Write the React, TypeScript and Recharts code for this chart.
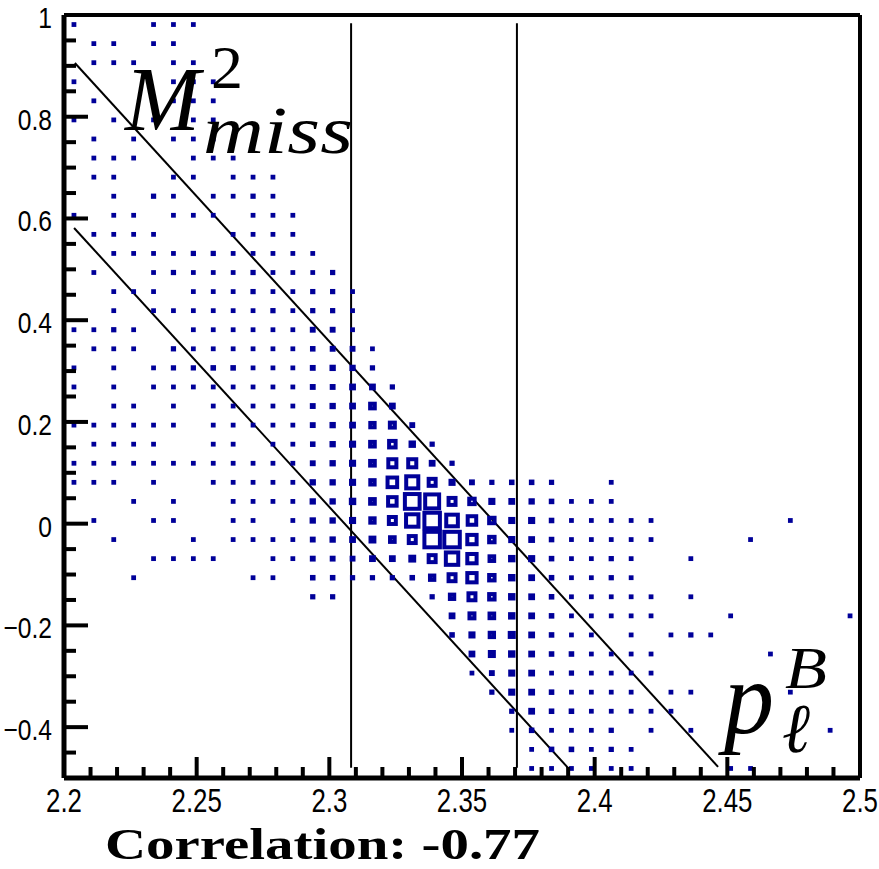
import React from 'react';
import { ScatterChart, Scatter, XAxis, YAxis, ReferenceLine } from 'recharts';

// Histogram geometry (40 x 40 bins)
const xMin = 2.2;
const xMax = 2.5;
const yMin = -0.5;
const yMax = 1.0;
const nBinsX = 40;
const nBinsY = 40;

// Axis ticks
const xTicks = [
  2.2, 2.21, 2.22, 2.23, 2.24, 2.25, 2.26, 2.27, 2.28, 2.29,
  2.3, 2.31, 2.32, 2.33, 2.34, 2.35, 2.36, 2.37, 2.38, 2.39,
  2.4, 2.41, 2.42, 2.43, 2.44, 2.45, 2.46, 2.47, 2.48, 2.49, 2.5,
];
const xMajorTicks = [2.2, 2.25, 2.3, 2.35, 2.4, 2.45, 2.5];
const xTickLabels = ['2.2', '2.25', '2.3', '2.35', '2.4', '2.45', '2.5'];
const yTicks = [
  -0.5, -0.45, -0.4, -0.35, -0.3, -0.25, -0.2, -0.15, -0.1, -0.05,
  0, 0.05, 0.1, 0.15, 0.2, 0.25, 0.3, 0.35, 0.4, 0.45,
  0.5, 0.55, 0.6, 0.65, 0.7, 0.75, 0.8, 0.85, 0.9, 0.95, 1.0,
];
const yMajorTicks = [-0.4, -0.2, 0, 0.2, 0.4, 0.6, 0.8, 1.0];
const yTickLabels = ['\u22120.4', '\u22120.2', '0', '0.2', '0.4', '0.6', '0.8', '1'];

// Cut lines
const cutLowX = 2.3082;
const cutHighX = 2.3707;
const cutTopY = 0.984;
const cutBottomY = -0.48;
const bandUpper = [{ x: 2.2041, y: 0.9056 }, { x: 2.4465, y: -0.478 }];
const bandLower = [{ x: 2.2038, y: 0.5813 }, { x: 2.3903, y: -0.482 }];

const correlationText = 'Correlation: -0.77';

// Bin contents, rows from top (y = 1) to bottom (y = -0.5), columns from x = 2.2 to 2.5
const binCounts: number[][] = [
  [5,0,0,0,5,5,5,0,0,0, 0,0,0,0,0,0,0,0,0,0, 0,0,0,0,0,0,0,0,0,0, 0,0,0,0,0,0,0,0,0,0],
  [0,5,5,0,5,5,0,0,0,0, 0,0,0,0,0,0,0,0,0,0, 0,0,0,0,0,0,0,0,0,0, 0,0,0,0,0,0,0,0,0,0],
  [0,5,5,5,0,5,5,0,0,0, 0,0,0,0,0,0,0,0,0,0, 0,0,0,0,0,0,0,0,0,0, 0,0,0,0,0,0,0,0,0,0],
  [5,0,0,0,0,5,5,5,0,0, 0,0,0,0,0,0,0,0,0,0, 0,0,0,0,0,0,0,0,0,0, 0,0,0,0,0,0,0,0,0,0],
  [0,5,0,0,0,5,5,5,0,0, 0,0,0,0,0,0,0,0,0,0, 0,0,0,0,0,0,0,0,0,0, 0,0,0,0,0,0,0,0,0,0],
  [5,0,5,0,5,0,5,5,0,0, 0,0,0,0,0,0,0,0,0,0, 0,0,0,0,0,0,0,0,0,0, 0,0,0,0,0,0,0,0,0,0],
  [0,5,0,5,0,5,5,5,0,0, 0,0,0,0,0,0,0,0,0,0, 0,0,0,0,0,0,0,0,0,0, 0,0,0,0,0,0,0,0,0,0],
  [0,5,5,5,0,0,5,5,5,0, 0,0,0,0,0,0,0,0,0,0, 0,0,0,0,0,0,0,0,0,0, 0,0,0,0,0,0,0,0,0,0],
  [0,5,5,0,0,5,5,0,5,5, 5,0,0,0,0,0,0,0,0,0, 0,0,0,0,0,0,0,0,0,0, 0,0,0,0,0,0,0,0,0,0],
  [0,0,5,0,8,5,0,5,5,8, 5,0,0,0,0,0,0,0,0,0, 0,0,0,0,0,0,0,0,0,0, 0,0,0,0,0,0,0,0,0,0],
  [5,0,5,5,0,5,5,5,0,5, 5,5,0,0,0,0,0,0,0,0, 0,0,0,0,0,0,0,0,0,0, 0,0,0,0,0,0,0,0,0,0],
  [0,5,5,5,5,0,0,0,5,5, 5,5,0,0,0,0,0,0,0,0, 0,0,0,0,0,0,0,0,0,0, 0,0,0,0,0,0,0,0,0,0],
  [0,0,5,5,5,5,8,8,5,5, 5,5,5,0,0,0,0,0,0,0, 0,0,0,0,0,0,0,0,0,0, 0,0,0,0,0,0,0,0,0,0],
  [0,5,0,0,5,8,5,5,5,8, 5,5,5,8,0,0,0,0,0,0, 0,0,0,0,0,0,0,0,0,0, 0,0,0,0,0,0,0,0,0,0],
  [0,0,5,5,5,0,5,5,5,8, 5,5,8,8,5,0,0,0,0,0, 0,0,0,0,0,0,0,0,0,0, 0,0,0,0,0,0,0,0,0,0],
  [0,0,5,0,5,5,5,5,5,5, 8,5,8,8,5,0,0,0,0,0, 0,0,0,0,0,0,0,0,0,0, 0,0,0,0,0,0,0,0,0,0],
  [5,5,8,5,0,0,5,5,5,5, 5,5,12,12,5,0,0,0,0,0, 0,0,0,0,0,0,0,0,0,0, 0,0,0,0,0,0,0,0,0,0],
  [0,5,5,5,0,8,5,5,5,5, 5,5,10,12,12,5,0,0,0,0, 0,0,0,0,0,0,0,0,0,0, 0,0,0,0,0,0,0,0,0,0],
  [5,0,5,0,5,8,8,10,10,5, 5,5,12,15,15,8,0,0,0,0, 0,0,0,0,0,0,0,0,0,0, 0,0,0,0,0,0,0,0,0,0],
  [5,0,5,0,5,5,5,5,5,5, 5,5,12,12,18,18,8,0,0,0, 0,0,0,0,0,0,0,0,0,0, 0,0,0,0,0,0,0,0,0,0],
  [0,0,5,5,0,5,0,5,5,5, 5,5,12,15,18,30,18,0,0,0, 0,0,0,0,0,0,0,0,0,0, 0,0,0,0,0,0,0,0,0,0],
  [5,5,5,5,5,5,0,5,5,5, 5,5,12,15,18,28,32,12,0,0, 0,0,0,0,0,0,0,0,0,0, 0,0,0,0,0,0,0,0,0,0],
  [0,5,5,5,5,0,0,5,5,0, 5,5,10,15,20,30,42,22,8,0, 0,0,0,0,0,0,0,0,0,0, 0,0,0,0,0,0,0,0,0,0],
  [5,5,5,5,5,5,5,5,5,5, 5,5,12,15,20,30,52,52,18,8, 0,0,0,0,0,0,0,0,0,0, 0,0,0,0,0,0,0,0,0,0],
  [5,5,5,0,5,0,0,5,5,5, 5,5,15,15,20,28,62,78,45,20, 12,8,10,10,8,0,0,5,0,0, 0,0,0,0,0,0,0,0,0,0],
  [0,0,0,5,0,5,0,0,5,5, 5,5,15,15,22,30,55,95,90,45, 35,20,18,15,10,5,5,5,0,0, 0,0,0,0,0,0,0,0,0,0],
  [0,5,0,0,5,5,0,0,5,5, 0,5,15,15,20,28,45,80,100,75, 55,35,20,20,10,5,5,5,5,5, 0,0,0,0,0,0,5,0,0,0],
  [0,0,5,0,0,0,5,0,5,5, 5,5,12,15,18,25,30,45,100,100, 60,35,20,18,10,5,5,5,5,5, 0,0,0,0,5,0,0,0,0,0],
  [0,0,0,0,5,5,5,5,0,0, 5,5,12,12,12,18,18,25,45,80, 60,30,22,20,10,5,5,8,5,0, 0,5,0,0,0,0,0,0,0,0],
  [0,0,0,5,0,0,0,0,0,5, 5,0,10,10,8,8,8,10,28,45, 60,35,22,18,10,5,5,8,5,0, 0,0,0,0,0,0,0,0,0,0],
  [0,0,0,0,0,0,0,0,0,0, 0,0,8,8,0,0,0,0,8,28, 45,35,22,18,10,5,5,5,5,5, 0,5,0,0,0,0,0,0,0,0],
  [0,0,0,0,0,0,0,0,0,0, 0,0,0,0,0,0,0,0,0,18, 32,30,22,18,10,5,5,5,5,5, 0,0,0,5,0,0,0,0,0,5],
  [0,0,0,0,0,0,0,0,0,0, 0,0,0,0,0,0,0,0,0,10, 20,28,26,18,10,5,5,0,5,0, 5,8,5,0,0,0,0,0,0,0],
  [0,0,0,0,0,0,0,0,0,0, 0,0,0,0,0,0,0,0,0,0, 18,26,22,18,10,10,5,5,5,5, 0,0,0,0,0,5,0,0,0,0],
  [0,0,0,0,0,0,0,0,0,0, 0,0,0,0,0,0,0,0,0,0, 5,12,20,18,5,8,5,5,5,5, 0,0,0,0,0,0,0,0,0,0],
  [0,0,0,0,0,0,0,0,0,0, 0,0,0,0,0,0,0,0,0,0, 0,8,20,18,10,5,5,5,5,0, 5,5,0,0,0,0,5,0,0,0],
  [0,0,0,0,0,0,0,0,0,0, 0,0,0,0,0,0,0,0,0,0, 0,0,8,18,10,10,5,5,5,5, 5,0,0,0,0,0,0,0,0,0],
  [0,0,0,0,0,0,0,0,0,0, 0,0,0,0,0,0,0,0,0,0, 0,0,5,10,5,5,5,8,0,5, 0,5,0,0,0,0,0,0,5,0],
  [0,0,0,0,0,0,0,0,0,0, 0,0,0,0,0,0,0,0,0,0, 0,0,0,5,10,10,5,8,5,0, 0,0,0,0,0,0,0,0,0,0],
  [0,0,0,0,0,0,0,0,0,0, 0,0,0,0,0,0,0,0,0,0, 0,0,0,5,5,5,5,5,5,0, 0,0,0,5,5,0,0,0,0,0],
];

const binW = (xMax - xMin) / nBinsX;
const binH = (yMax - yMin) / nBinsY;
const maxCount = 100;

const points = binCounts.flatMap((row, j) =>
  row
    .map((count, i) => ({ x: xMin + (i + 0.5) * binW, y: yMax - (j + 0.5) * binH, count }))
    .filter((p) => p.count > 0)
);

const BOX_COLOR = '#000099';

const BoxShape = (props: any) => {
  const { cx, cy, payload } = props;
  if (cx == null || cy == null) return null;
  const side = (payload.count / maxCount) * 15.5;
  return (
    <rect
      x={cx - side / 2}
      y={cy - side / 2}
      width={side}
      height={side}
      fill="none"
      stroke={BOX_COLOR}
      strokeWidth={4}
      strokeLinejoin="miter"
    />
  );
};

const near = (a: number, b: number) => Math.abs(a - b) < 1e-6;

const XTick = (props: any) => {
  const { x, y, payload } = props;
  const v = payload.value;
  const idx = xMajorTicks.findIndex((m) => near(m, v));
  const major = idx >= 0;
  return (
    <g>
      <line x1={x} y1={y} x2={x} y2={y - (major ? 21 : 11)} stroke="#000" strokeWidth={4} />
      {major && (
        <text
          transform={`translate(${x},${y + 34}) scale(0.76,1)`}
          textAnchor="middle"
          fontFamily="'Liberation Sans', Arial, sans-serif"
          fontSize={34}
          fill="#000"
        >
          {xTickLabels[idx]}
        </text>
      )}
    </g>
  );
};

const YTick = (props: any) => {
  const { x, y, payload } = props;
  const v = payload.value;
  const idx = yMajorTicks.findIndex((m) => near(m, v));
  const major = idx >= 0;
  return (
    <g>
      <line x1={x} y1={y} x2={x + (major ? 24 : 12)} y2={y} stroke="#000" strokeWidth={4} />
      {major && (
        <text
          transform={`translate(${x - 12},${y + 13}) scale(0.82,1)`}
          textAnchor="end"
          fontFamily="'Liberation Sans', Arial, sans-serif"
          fontSize={30}
          fill="#000"
        >
          {yTickLabels[idx]}
        </text>
      )}
    </g>
  );
};

export default function App() {
  const W = 879;
  const H = 869;
  return (
    <div style={{ position: 'absolute', left: 0, top: 0, width: W, height: H, background: '#fff' }}>
      <ScatterChart
        width={W}
        height={H}
        margin={{ top: 15, right: 19, bottom: 90, left: 63 }}
      >
        <XAxis
          type="number"
          dataKey="x"
          domain={[xMin, xMax]}
          ticks={xTicks}
          interval={0}
          allowDataOverflow
          height={1}
          tickSize={0}
          tickMargin={0}
          tickLine={false}
          axisLine={{ stroke: '#000', strokeWidth: 5 }}
          tick={(p: any) => <XTick {...p} />}
        />
        <YAxis
          type="number"
          dataKey="y"
          domain={[yMin, yMax]}
          ticks={yTicks}
          interval={0}
          allowDataOverflow
          width={1}
          tickSize={0}
          tickMargin={0}
          tickLine={false}
          axisLine={{ stroke: '#000', strokeWidth: 5 }}
          tick={(p: any) => <YTick {...p} />}
        />
        <Scatter data={points} shape={(p: any) => <BoxShape {...p} />} isAnimationActive={false} />
        <ReferenceLine y={yMax} stroke="#000" strokeWidth={4} />
        <ReferenceLine x={xMax} stroke="#000" strokeWidth={4} />
        <ReferenceLine segment={[{ x: cutLowX, y: cutTopY }, { x: cutLowX, y: cutBottomY }]} stroke="#000" strokeWidth={2} />
        <ReferenceLine segment={[{ x: cutHighX, y: cutTopY }, { x: cutHighX, y: cutBottomY }]} stroke="#000" strokeWidth={2} />
        <ReferenceLine segment={bandUpper} stroke="#000" strokeWidth={2} />
        <ReferenceLine segment={bandLower} stroke="#000" strokeWidth={2} />
      </ScatterChart>
      <svg
        width={W}
        height={H}
        style={{ position: 'absolute', left: 0, top: 0, pointerEvents: 'none' }}
      >
        <text fontFamily="'Liberation Serif', 'DejaVu Serif', serif" fontStyle="italic" fill="#000">
          <tspan x={125} y={130} fontSize={92} textLength={75} lengthAdjust="spacingAndGlyphs">M</tspan>
          <tspan x={211} y={88} fontSize={62} textLength={32} lengthAdjust="spacingAndGlyphs" fontStyle="normal">2</tspan>
          <tspan x={203} y={153} fontSize={68} textLength={150} lengthAdjust="spacingAndGlyphs">miss</tspan>
        </text>
        <text fontFamily="'Liberation Serif', 'DejaVu Serif', serif" fontStyle="italic" fill="#000">
          <tspan x={724} y={733} fontSize={104} textLength={50} lengthAdjust="spacingAndGlyphs">p</tspan>
          <tspan x={785} y={688} fontSize={60} textLength={42} lengthAdjust="spacingAndGlyphs">B</tspan>
          <tspan x={782} y={752} fontSize={70} textLength={28} lengthAdjust="spacingAndGlyphs">{'\u2113'}</tspan>
        </text>
        <text
          x={105}
          y={859}
          fontFamily="'Liberation Serif', 'DejaVu Serif', serif"
          fontWeight="bold"
          fontSize={45}
          textLength={435}
          lengthAdjust="spacingAndGlyphs"
          fill="#000"
        >
          {correlationText}
        </text>
      </svg>
    </div>
  );
}
